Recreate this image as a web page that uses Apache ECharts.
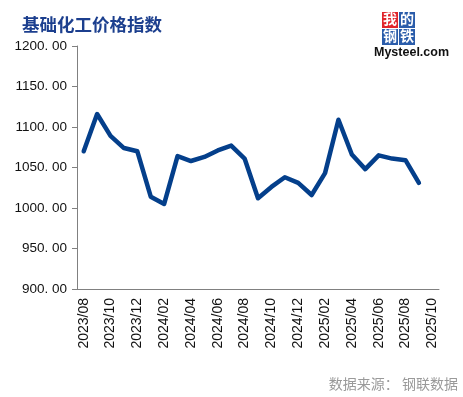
<!DOCTYPE html>
<html><head><meta charset="utf-8">
<script src="https://cdn.jsdelivr.net/npm/echarts@6/dist/echarts.min.js"></script>
<style>html,body{margin:0;padding:0;background:#fff}#c{width:463px;height:397px}</style>
</head><body><div id="c"></div>
<script>
var categories = ['2023/08','2023/09','2023/10','2023/11','2023/12','2024/01','2024/02','2024/03','2024/04','2024/05','2024/06','2024/07','2024/08','2024/09','2024/10','2024/11','2024/12','2025/01','2025/02','2025/03','2025/04','2025/05','2025/06','2025/07','2025/08','2025/09','2025/10'];
var indexValues = [1070,1116,1089,1074,1070,1014,1005,1064,1058,1063,1071,1077,1061,1012,1026,1038,1031,1016,1043,1109,1066,1048,1065,1061,1059,1031];
var yTicks = {min: 900, max: 1200, interval: 50};
var titleText = '基础化工价格指数';
var sourceText = '数据来源： 钢联数据';

var chart = echarts.init(document.getElementById('c'), null, {renderer: 'canvas'});
chart.setOption({
  animation: false,
  backgroundColor: '#fff',
  grid: {left: 77, right: 24, top: 46, bottom: 108, containLabel: false},
  title: {text: titleText, left: 17, top: 11, textStyle: {fontFamily: 'Noto Sans CJK SC', fontSize: 17.5, fontWeight: 'bold', color: '#1c3f8e'}},
  xAxis: {
    type: 'category', data: categories, boundaryGap: true,
    axisLine: {lineStyle: {color: '#808080', width: 1}},
    axisTick: {interval: 1, length: 5, lineStyle: {color: '#808080'}},
    axisLabel: {interval: 1, rotate: 90, fontSize: 14, color: '#111', fontFamily: 'Liberation Sans', margin: 9}
  },
  yAxis: {
    type: 'value', min: yTicks.min, max: yTicks.max, interval: yTicks.interval,
    axisLine: {show: true, lineStyle: {color: '#808080', width: 1}},
    axisTick: {show: true, length: 5, lineStyle: {color: '#808080'}},
    splitLine: {show: false},
    axisLabel: {fontSize: 13.5, color: '#111', fontFamily: 'Liberation Sans', margin: 10,
      formatter: function(v){ return v.toFixed(2).replace('.', '. '); }}
  },
  series: [{
    type: 'line', data: indexValues, symbol: 'none', smooth: false,
    lineStyle: {color: '#043f8b', width: 4.5, join: 'round', cap: 'round'}
  }],
  graphic: [
    {type: 'rect', shape: {x: 382, y: 12, width: 16, height: 16}, style: {fill: '#e0242b'}},
    {type: 'rect', shape: {x: 399, y: 12, width: 16, height: 16}, style: {fill: '#2a5caa'}},
    {type: 'rect', shape: {x: 382, y: 29, width: 16, height: 16}, style: {fill: '#2a5caa'}},
    {type: 'rect', shape: {x: 399, y: 29, width: 16, height: 16}, style: {fill: '#2a5caa'}},
    {type: 'text', left: 383, top: 12, style: {text: '我', fill: '#fff', fontSize: 14, fontFamily: 'Noto Sans CJK SC', fontWeight: 'bold'}},
    {type: 'text', left: 400, top: 12, style: {text: '的', fill: '#fff', fontSize: 14, fontFamily: 'Noto Sans CJK SC', fontWeight: 'bold'}},
    {type: 'text', left: 383, top: 29, style: {text: '钢', fill: '#fff', fontSize: 14, fontFamily: 'Noto Sans CJK SC', fontWeight: 'bold'}},
    {type: 'text', left: 400, top: 29, style: {text: '铁', fill: '#fff', fontSize: 14, fontFamily: 'Noto Sans CJK SC', fontWeight: 'bold'}},
    {type: 'text', left: 374, top: 46, style: {text: 'Mysteel.com', fill: '#111', fontSize: 12.5, fontFamily: 'Liberation Sans', fontWeight: 'bold'}},
    {type: 'text', right: 5, top: 377, style: {text: sourceText, fill: '#9a9a9a', fontSize: 14, fontFamily: 'Noto Sans CJK SC'}}
  ]
});
</script></body></html>
